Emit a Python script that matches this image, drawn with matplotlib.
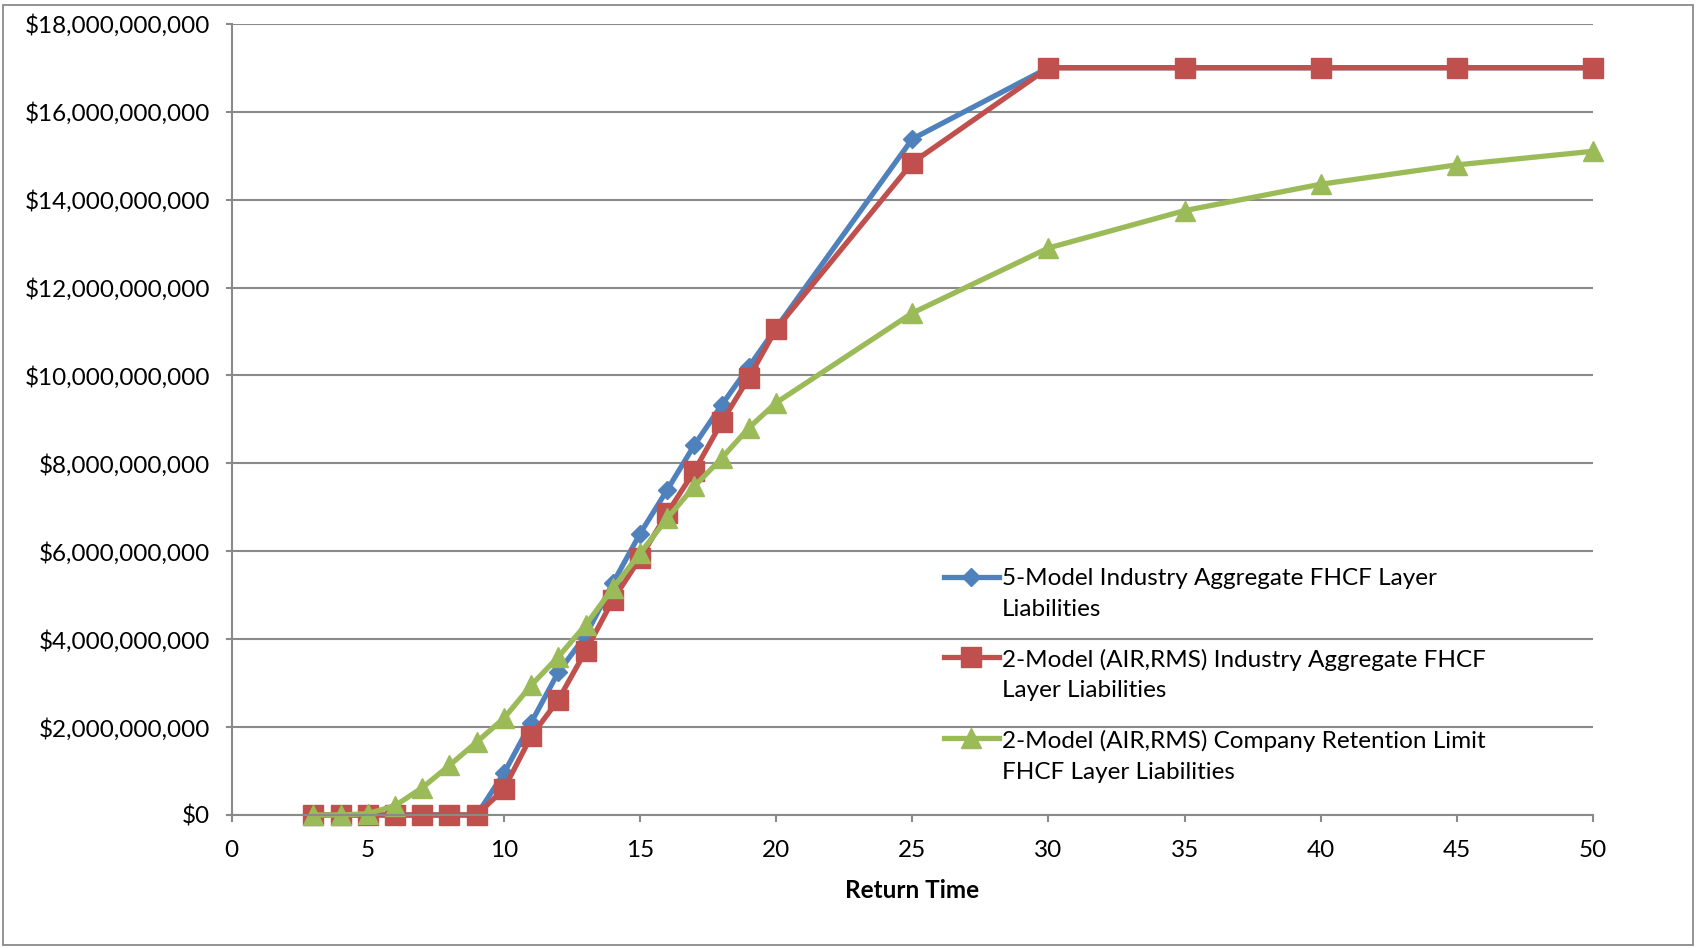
import matplotlib
matplotlib.use("Agg")
import matplotlib.pyplot as plt
import matplotlib.patches as mpatches
import numpy as np
from matplotlib.legend_handler import HandlerLine2D
from matplotlib.ticker import FuncFormatter, MultipleLocator

plt.rcParams["font.family"] = ["Lato", "DejaVu Sans"]

# return times (years) and layer liabilities ($)
return_time = [3, 4, 5, 6, 7, 8, 9, 10, 11, 12, 13, 14, 15, 16, 17, 18, 19, 20, 25, 30, 35, 40, 45, 50]

five_model = [0, 0, 0, 0, 0, 0, 0, 0.95e9, 2.10e9, 3.25e9, 4.08e9, 5.27e9, 6.40e9, 7.40e9, 8.42e9, 9.33e9,
              10.20e9, 11.08e9, 15.38e9, 17.0e9, 17.0e9, 17.0e9, 17.0e9, 17.0e9]
two_model_industry = [0, 0, 0, 0, 0, 0, 0, 0.59e9, 1.79e9, 2.62e9, 3.73e9, 4.89e9, 5.84e9, 6.87e9, 7.83e9,
                      8.94e9, 9.95e9, 11.06e9, 14.84e9, 17.0e9, 17.0e9, 17.0e9, 17.0e9, 17.0e9]
two_model_company = [0, 0, 0.03e9, 0.21e9, 0.62e9, 1.13e9, 1.66e9, 2.20e9, 2.95e9, 3.60e9, 4.32e9, 5.16e9,
                     5.95e9, 6.75e9, 7.48e9, 8.12e9, 8.81e9, 9.38e9, 11.42e9, 12.90e9, 13.75e9, 14.35e9,
                     14.79e9, 15.10e9]

labels = [
    "5-Model Industry Aggregate FHCF Layer\nLiabilities",
    "2-Model (AIR,RMS) Industry Aggregate FHCF\nLayer Liabilities",
    "2-Model (AIR,RMS) Company Retention Limit\nFHCF Layer Liabilities",
]

FS = 17.5
LINESPACING = 1.57
GRID = "#8a8a8a"


class FirstLineHandler(HandlerLine2D):
    """Put the legend marker level with the first line of a two-line label."""

    def create_artists(self, legend, orig_handle, xdescent, ydescent, width, height, fontsize, trans):
        artists = super().create_artists(legend, orig_handle, xdescent, ydescent, width, height, fontsize, trans)
        for a in artists:
            a.set_ydata(np.asarray(a.get_ydata()) + 0.73 * fontsize)
        return artists


fig = plt.figure(figsize=(16.97, 9.48), dpi=100)
ax = fig.add_axes([0.1365, 0.1403, 0.8022, 0.8346])

ax.plot(return_time, five_model, color="#4F81BD", lw=3.8, marker="D", ms=9.5, clip_on=False, label=labels[0])
ax.plot(return_time, two_model_industry, color="#C0504D", lw=3.8, marker="s", ms=14, clip_on=False, label=labels[1])
ax.plot(return_time, two_model_company, color="#9BBB59", lw=3.8, marker="^", ms=14, clip_on=False, label=labels[2])

ax.set_xlim(0, 50)
ax.set_ylim(0, 18e9)
ax.xaxis.set_major_locator(MultipleLocator(5))
ax.yaxis.set_major_locator(MultipleLocator(2e9))
ax.yaxis.set_major_formatter(FuncFormatter(lambda v, _: f"${v:,.0f}"))

ax.grid(axis="y", color=GRID, lw=1.5)
ax.set_axisbelow(True)
ax.spines[["top", "right"]].set_visible(False)
for side in ["left", "bottom"]:
    ax.spines[side].set_color(GRID)
    ax.spines[side].set_linewidth(1.5)
ax.tick_params(axis="y", length=4.5, width=1.5, color=GRID, pad=11, labelsize=FS)
ax.tick_params(axis="x", length=5, width=1.5, color=GRID, pad=13, labelsize=FS)

ax.set_xlabel("Return Time", fontsize=FS, fontweight="bold", labelpad=13)

leg = ax.legend(loc="upper left", bbox_to_anchor=(0.514, 0.327), frameon=False, fontsize=FS,
                handlelength=2.3, handletextpad=0.1, labelspacing=1.17, borderpad=0,
                handler_map={plt.Line2D: FirstLineHandler()})
for t in leg.get_texts():
    t.set_linespacing(LINESPACING)

# outer chart border
fig.patches.append(mpatches.Rectangle((0.0015, 0.003), 0.996, 0.992, transform=fig.transFigure,
                                      fill=False, edgecolor=GRID, lw=1.3))

fig.savefig("out.png", dpi=100)
